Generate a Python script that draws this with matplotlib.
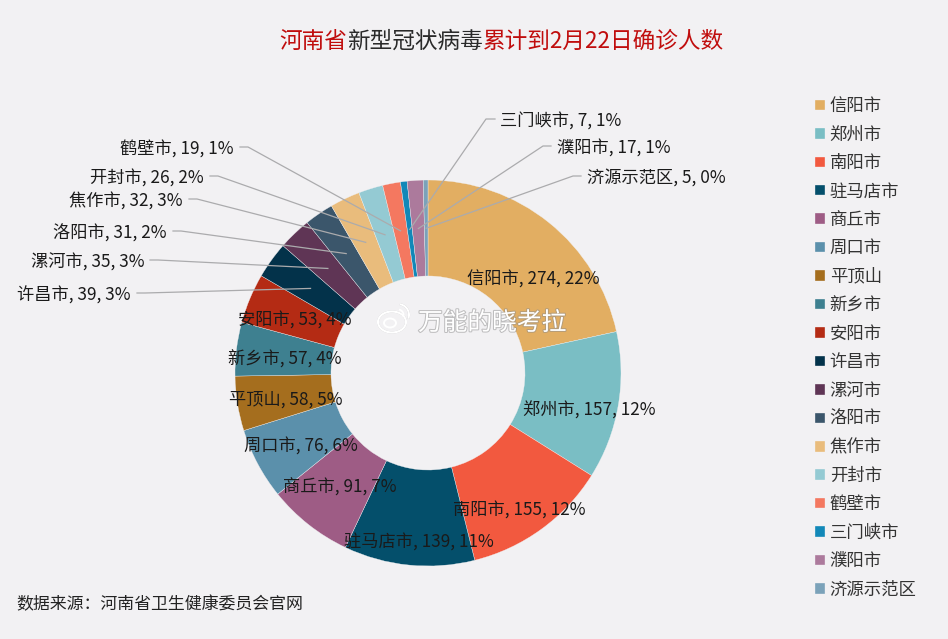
#!/usr/bin/env python3
import matplotlib

matplotlib.use("Agg")
import matplotlib.patheffects as pe
import matplotlib.pyplot as plt
import numpy as np
from matplotlib.patches import Arc, Ellipse

plt.rcParams["font.family"] = ["Noto Sans CJK SC", "DejaVu Sans"]

cities = ["信阳市", "郑州市", "南阳市", "驻马店市", "商丘市", "周口市", "平顶山", "新乡市", "安阳市",
          "许昌市", "漯河市", "洛阳市", "焦作市", "开封市", "鹤壁市", "三门峡市", "濮阳市", "济源示范区"]
cases = [274, 157, 155, 139, 91, 76, 58, 57, 53, 39, 35, 31, 32, 26, 19, 7, 17, 5]
percents = [22, 12, 12, 11, 7, 6, 5, 4, 4, 3, 3, 2, 3, 2, 1, 1, 1, 0]
colors = ["#E2AE62", "#7ABEC4", "#F2593F", "#044F6B", "#9E5C85", "#5B90AB", "#A56E1E", "#3E8090", "#B42B14",
          "#03324A", "#5F3555", "#3B566B", "#E9BC7C", "#94CAD3", "#F47860", "#1288B8", "#AC7A9C", "#7BA2B9"]

BG = "#F2F1F3"
RED = "#C00D0D"
TEXT = "#1A1A1A"
W, H = 948, 639
CX, CY, R, R_IN = 428, 373, 193, 97

# label layout in image pixels: city -> (x, y, ha)
inside_pos = {
    "信阳市": (533, 280), "郑州市": (589, 411), "南阳市": (519, 511),
    "驻马店市": (419, 543), "商丘市": (340, 487), "周口市": (301, 447),
    "平顶山": (286, 400), "新乡市": (285, 359), "安阳市": (295, 321),
}
# city -> (text x, y, elbow x, line start x)
outside_pos = {
    "许昌市": (131, 296, 145, 137), "漯河市": (145, 263, 158, 150),
    "洛阳市": (167, 234, 181, 173), "焦作市": (183, 202, 197, 189),
    "开封市": (204, 179, 218, 210), "鹤壁市": (234, 150, 248, 240),
    "三门峡市": (500, 122, 486, 495), "濮阳市": (557, 149, 543, 551),
    "济源示范区": (587, 179, 573, 581),
}


def py(y):
    return H - y


fig = plt.figure(figsize=(W / 100, H / 100), dpi=100, facecolor=BG)
ax = fig.add_axes([0, 0, 1, 1])
ax.set_facecolor(BG)

wedges, _ = ax.pie(
    cases,
    colors=colors,
    startangle=90,
    counterclock=False,
    center=(CX, py(CY)),
    radius=R,
    wedgeprops={"width": R - R_IN, "edgecolor": BG, "linewidth": 0.25},
)
ax.set_xlim(0, W)
ax.set_ylim(0, H)
ax.set_aspect("equal")
ax.axis("off")

label_style = {"fontsize": 12.4, "color": TEXT, "va": "center"}
total = sum(cases)
cum = np.cumsum(cases)

for i, city in enumerate(cities):
    text = f"{city}, {cases[i]}, {percents[i]}%"
    if city in inside_pos:
        x, y = inside_pos[city]
        ax.text(x, py(y), text, ha="center", zorder=5, **label_style)
        continue
    x, y, elbow, start = outside_pos[city]
    ax.text(x, py(y), text, ha="left" if x > CX else "right", zorder=5, **label_style)
    # leader ends three quarters of the way out along the slice middle
    angle = (cum[i] - cases[i] / 2) / total * 2 * np.pi
    end_x = CX + 0.75 * R * np.sin(angle)
    end_y = CY - 0.75 * R * np.cos(angle)
    ax.plot([start, elbow, end_x], [py(y - 3), py(y - 3), py(end_y)], color="#ABABAD", lw=0.9, zorder=4)

ax.legend(
    wedges,
    cities,
    loc="upper left",
    bbox_to_anchor=(815 / W, 1 - 97 / H),
    frameon=False,
    fontsize=12.5,
    labelcolor="#333333",
    handlelength=0.6,
    handleheight=0.55,
    handletextpad=0.25,
    labelspacing=0.602,
    borderpad=0,
    borderaxespad=0,
)

# title is three runs of different colour, chained left to right
renderer = fig.canvas.get_renderer()
title_x = 279
for part, color in [("河南省", RED), ("新型冠状病毒", "#2A2A2A"), ("累计到2月22日确诊人数", RED)]:
    t = ax.text(title_x, py(41), part, color=color, fontsize=16.3, ha="left", va="center")
    title_x = ax.transData.inverted().transform(t.get_window_extent(renderer))[1][0]

ax.text(16, py(604), "数据来源：河南省卫生健康委员会官网", fontsize=12.2, color="#222222", ha="left", va="center")

# watermark
shadow = [pe.withStroke(linewidth=1.5, foreground="#8C8C8C", alpha=0.5)]
ax.text(418, py(323), "万能的晓考拉", fontsize=17.8, color="white", ha="left", va="center",
        zorder=6, path_effects=shadow)
ax.add_patch(Ellipse((392, py(322)), 28, 21, fill=False, ec="white", lw=1.6, zorder=6, path_effects=shadow))
ax.add_patch(Ellipse((390, py(323)), 12, 9, fill=False, ec="white", lw=1.4, zorder=6))
ax.add_patch(Arc((398, py(315)), 22, 22, theta1=-20, theta2=80, ec="white", lw=1.5, zorder=6, path_effects=shadow))
ax.add_patch(Arc((398, py(315)), 11, 11, theta1=-20, theta2=80, ec="white", lw=1.3, zorder=6))

fig.savefig("out.png", dpi=100, facecolor=BG)
